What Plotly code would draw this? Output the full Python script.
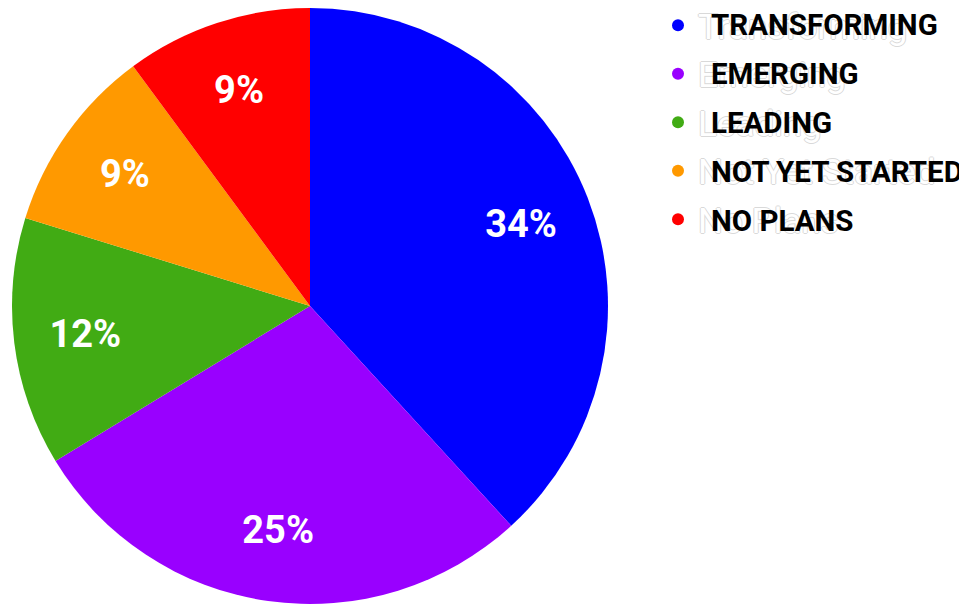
import plotly.graph_objects as go

labels = ["Transforming", "Emerging", "Leading", "Not Yet Started", "No Plans"]
values = [34, 25, 12, 9, 9]
colors = ["#0000FF", "#9900FF", "#41AB14", "#FF9900", "#FF0000"]

W, H = 967, 604
OFF = 8  # page body margin of the browser
dom = dict(x=[0, 604/W], y=[8/H, 1])

fig = go.Figure()
# coloured pie
fig.add_trace(go.Pie(
    labels=labels, values=values, sort=False, direction="clockwise", rotation=0,
    marker=dict(colors=colors, line=dict(width=0)),
    textinfo="none", domain=dom, showlegend=False, hoverinfo="skip",
))
# transparent ring carrying the percentage labels
fig.add_trace(go.Pie(
    labels=labels, values=values, sort=False, direction="clockwise", rotation=0, hole=0.52,
    marker=dict(colors=["rgba(0,0,0,0)"]*len(values), line=dict(width=0)),
    texttemplate="%{value}%", textposition="inside", insidetextorientation="horizontal",
    textfont=dict(family="Roboto", size=38, color="white", weight="bold"),
    domain=dom, showlegend=False, hoverinfo="skip",
))

ghost = "1px 0 #d9d9d9, -1px 0 #d9d9d9, 0 1px #d9d9d9, 0 -1px #d9d9d9"
for lab, col in zip(labels, colors):
    fig.add_trace(go.Scatter(x=[None], y=[None], mode="markers", name=lab,
                             marker=dict(color=col, size=12), showlegend=True))

fig.update_layout(
    width=W, height=H, margin=dict(l=0, r=0, t=0, b=0, autoexpand=False),
    paper_bgcolor="white", plot_bgcolor="white",
    xaxis=dict(visible=False), yaxis=dict(visible=False),
    legend=dict(x=650/W, y=1 + (OFF + 4)/H, xanchor="left", yanchor="top",
                font=dict(family="Roboto", size=35, color="white", shadow=ghost),
                bgcolor="rgba(0,0,0,0)"),
)

for i, lab in enumerate(labels):
    fig.add_annotation(text=lab.upper(), xref="paper", yref="paper",
                       x=(711 - OFF - 2)/W, y=1 - (25 + 49*i - OFF)/H, xanchor="left", yanchor="middle",
                       showarrow=False,
                       font=dict(family="Roboto", size=29.5, color="black", weight="bold"))

fig.write_html("out.html")
